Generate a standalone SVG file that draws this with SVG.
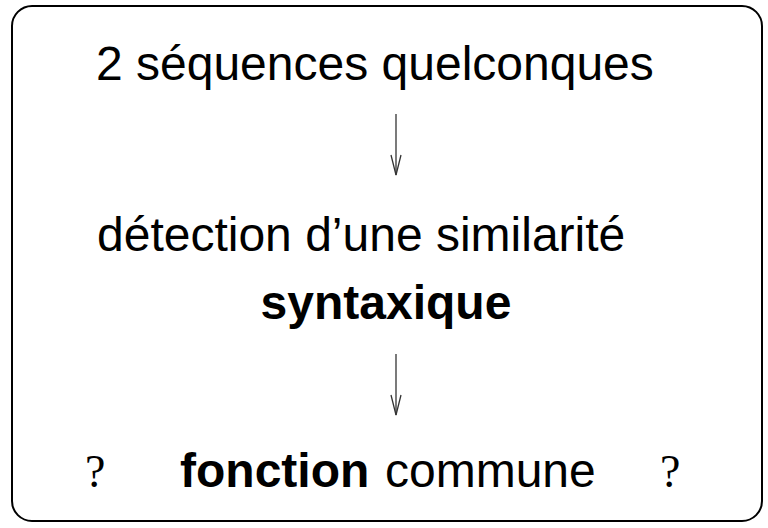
<svg xmlns="http://www.w3.org/2000/svg" width="768" height="528" viewBox="0 0 768 528">
<defs>
<style>
.t{font-family:"Liberation Sans",Arial,sans-serif;font-size:48px;fill:#000}
.b{font-weight:bold}
.q{font-family:"Liberation Serif","Times New Roman",serif;font-size:46px;fill:#000}
.c{fill:none;stroke:#333;stroke-width:1.3}
</style>
<marker id="ah" viewBox="0 0 22 12" refX="21" refY="6" markerWidth="22" markerHeight="12" markerUnits="userSpaceOnUse" orient="auto">
<path d="M1,1 L21,6 L1,11" fill="none" stroke="#333" stroke-width="1.3"/>
</marker>
</defs>
<rect x="12" y="6" width="750" height="515" rx="20" ry="20" fill="#fff" stroke="#000" stroke-width="2"/>
<g id="n1"><text class="t" x="96" y="80">2 séquences quelconques</text></g>
<g id="n2"><text class="t" x="97" y="251">détection d’une similarité</text>
<text class="t b" x="386" y="319" text-anchor="middle">syntaxique</text></g>
<g id="n3"><text class="q" x="85" y="487">?</text>
<text class="t b" x="180" y="487">fonction</text>
<text class="t" x="385" y="487">commune</text>
<text class="q" x="660" y="487">?</text></g>
<g id="connectors">
<line class="c" x1="396" y1="114" x2="396" y2="175" marker-end="url(#ah)"/>
<line class="c" x1="396" y1="354" x2="396" y2="415" marker-end="url(#ah)"/>
</g>
</svg>
